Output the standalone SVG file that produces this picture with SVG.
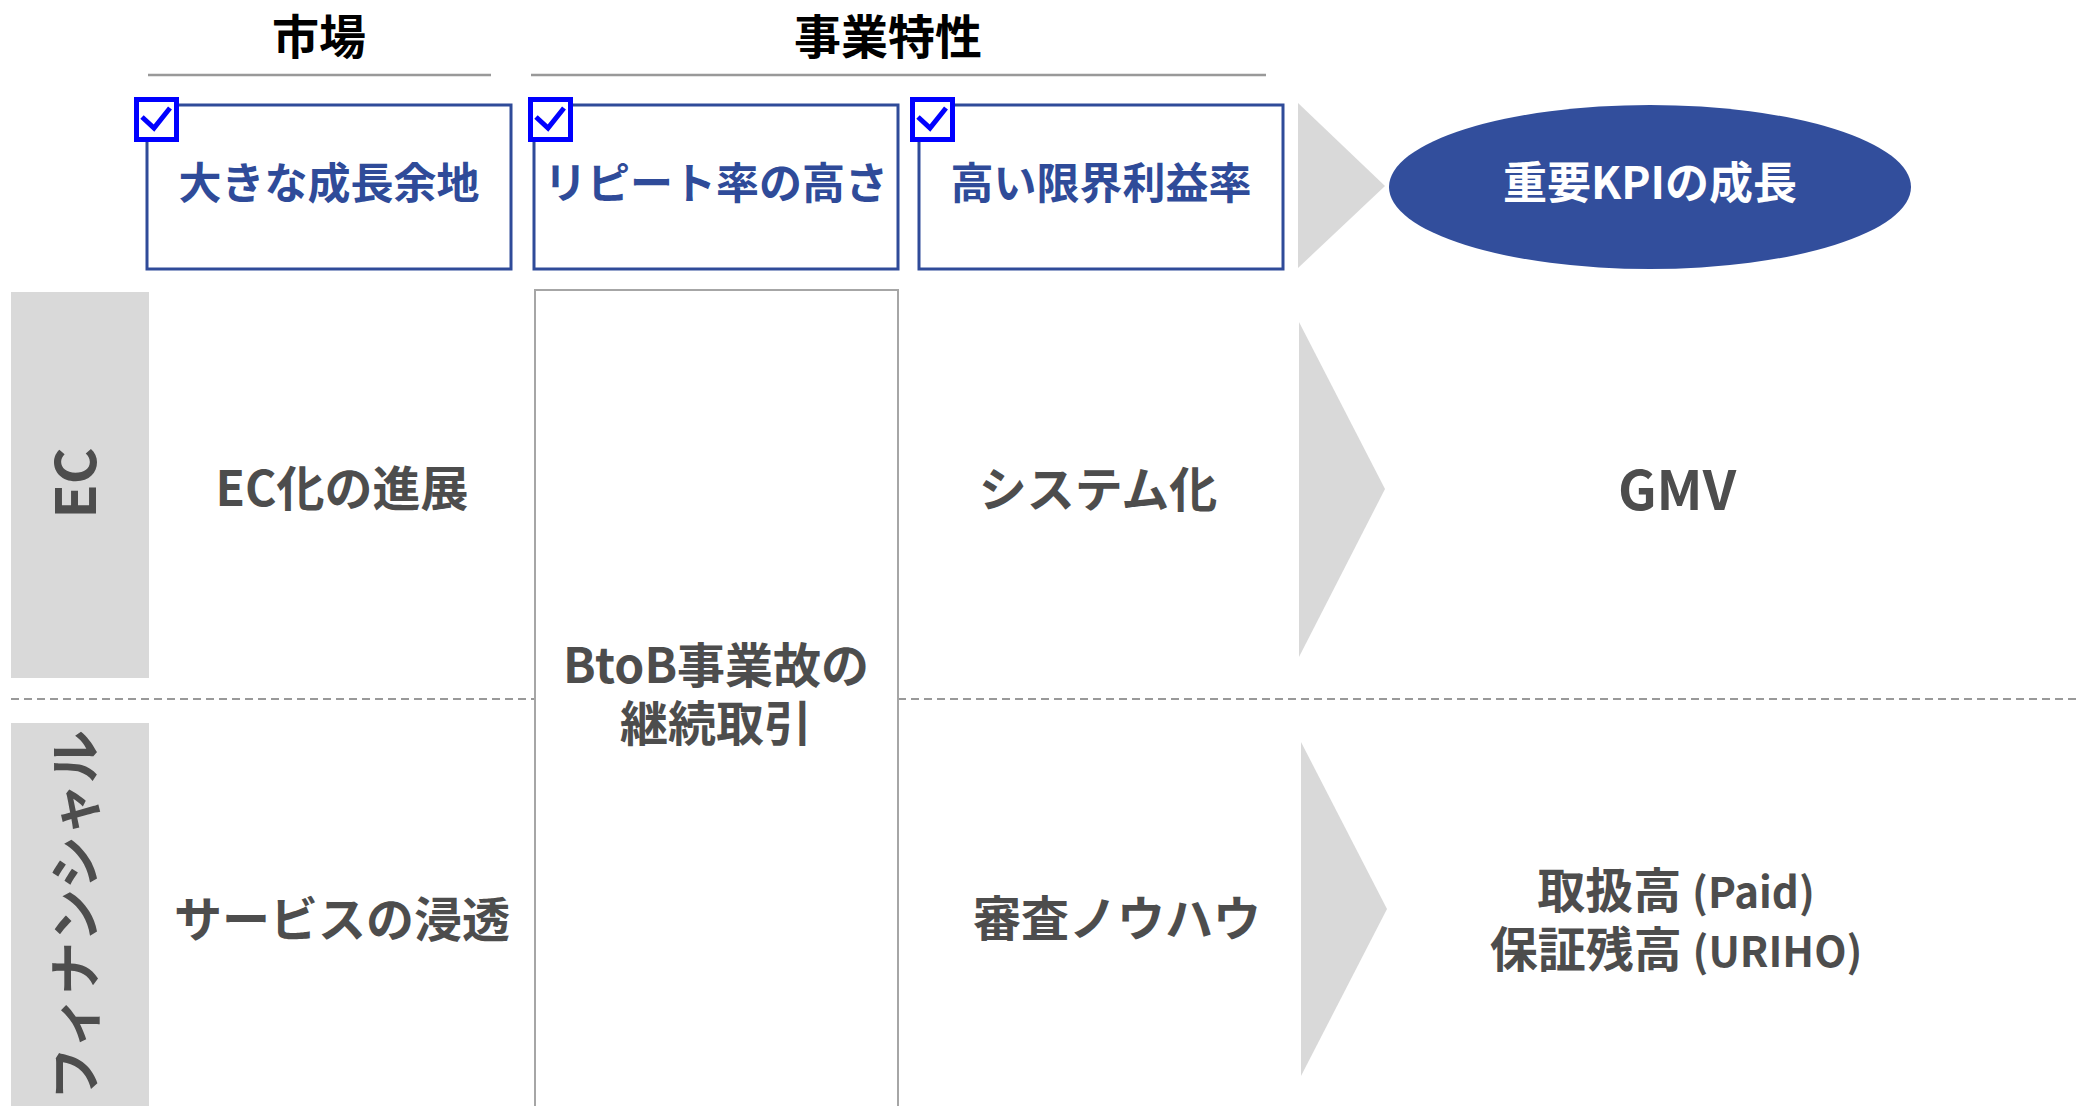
<svg xmlns="http://www.w3.org/2000/svg" width="2076" height="1106" viewBox="0 0 2076 1106">
<style>
text{font-family:"Noto Sans CJK JP","Noto Sans",sans-serif;font-weight:bold}
.hdr{font-size:47px;fill:#000;text-anchor:middle}
.blab{font-size:43px;fill:#2F4B99;text-anchor:middle}
.body{font-size:48px;fill:#4D4D4D;text-anchor:middle}
.sm{font-size:42px}
.bbox{fill:#fff;stroke:#2F4B99;stroke-width:3}
.chk{fill:#fff;stroke:#0000FF;stroke-width:5}
.tick{fill:none;stroke:#0000FF;stroke-width:5}
.side{fill:#D9D9D9}
.chev{fill:#D9D9D9}
.rule{stroke:#999;stroke-width:2.5}
.dash{stroke:#999;stroke-width:2;stroke-dasharray:8 5}
</style>

<g id="header-market">
<text class="hdr" x="319" y="54">市場</text>
<line class="rule" x1="148" y1="75" x2="491" y2="75"/>
</g>
<g id="header-business">
<text class="hdr" x="888" y="54">事業特性</text>
<line class="rule" x1="531" y1="75" x2="1266" y2="75"/>
</g>

<g id="box-growth">
<rect class="bbox" x="147" y="105" width="364" height="164"/>
<rect class="chk" x="136.5" y="99.5" width="40" height="40"/>
<polyline class="tick" points="142,117 154,128 170,108"/>
<text class="blab" x="329" y="199">大きな成長余地</text>
</g>
<g id="box-repeat">
<rect class="bbox" x="534" y="105" width="364" height="164"/>
<rect class="chk" x="530.5" y="99.5" width="40" height="40"/>
<polyline class="tick" points="536,117 548,128 564,108"/>
<text class="blab" x="716" y="199">リピート率の高さ</text>
</g>
<g id="box-margin">
<rect class="bbox" x="919" y="105" width="364" height="164"/>
<rect class="chk" x="912.5" y="99.5" width="40" height="40"/>
<polyline class="tick" points="918,117 930,128 946,108"/>
<text class="blab" x="1101" y="199">高い限界利益率</text>
</g>

<g id="kpi">
<ellipse cx="1650" cy="187" rx="261" ry="82" fill="#324E9C"/>
<text class="blab" x="1650" y="199" style="fill:#fff;font-size:44px">重要KPIの成長</text>
</g>

<g id="row-ec">
<rect class="side" x="11" y="292" width="138" height="386"/>
<text transform="translate(76,483) rotate(-90)" x="0" y="20" style="font-size:56px;fill:#4D4D4D;text-anchor:middle">EC</text>
</g>
<g id="row-fin">
<rect class="side" x="11" y="723" width="138" height="383"/>
<text transform="translate(75,915) rotate(-90)" x="0" y="20" style="font-size:53px;fill:#4D4D4D;text-anchor:middle">フィナンシャル</text>
</g>

<g id="separators">
<line class="dash" x1="11" y1="699" x2="535" y2="699"/>
<line class="dash" x1="898" y1="699" x2="2076" y2="699"/>
</g>

<g id="btob">
<rect x="535" y="290" width="363" height="830" fill="none" stroke="#A6A6A6" stroke-width="2"/>
<text class="body" x="716" y="683">BtoB事業故の</text>
<text class="body" x="716" y="741">継続取引</text>
</g>

<g id="ec-market"><text class="body" x="342" y="506">EC化の進展</text></g>
<g id="ec-system"><text class="body" x="1098" y="507">システム化</text></g>
<g id="ec-kpi"><text class="body" x="1677" y="510" style="font-size:54px">GMV</text></g>

<g id="fin-market"><text class="body" x="342" y="937">サービスの浸透</text></g>
<g id="fin-knowhow"><text class="body" x="1117" y="936">審査ノウハウ</text></g>
<g id="fin-kpi">
<text class="body" x="1676" y="908">取扱高 <tspan class="sm">(Paid)</tspan></text>
<text class="body" x="1676" y="967">保証残高 <tspan class="sm">(URIHO)</tspan></text>
</g>

<g id="connectors">
<polygon class="chev" points="1298,103 1385,186 1298,268"/>
<polygon class="chev" points="1299,322 1385,489 1299,657"/>
<polygon class="chev" points="1301,742 1387,909 1301,1076"/>
</g>
</svg>
